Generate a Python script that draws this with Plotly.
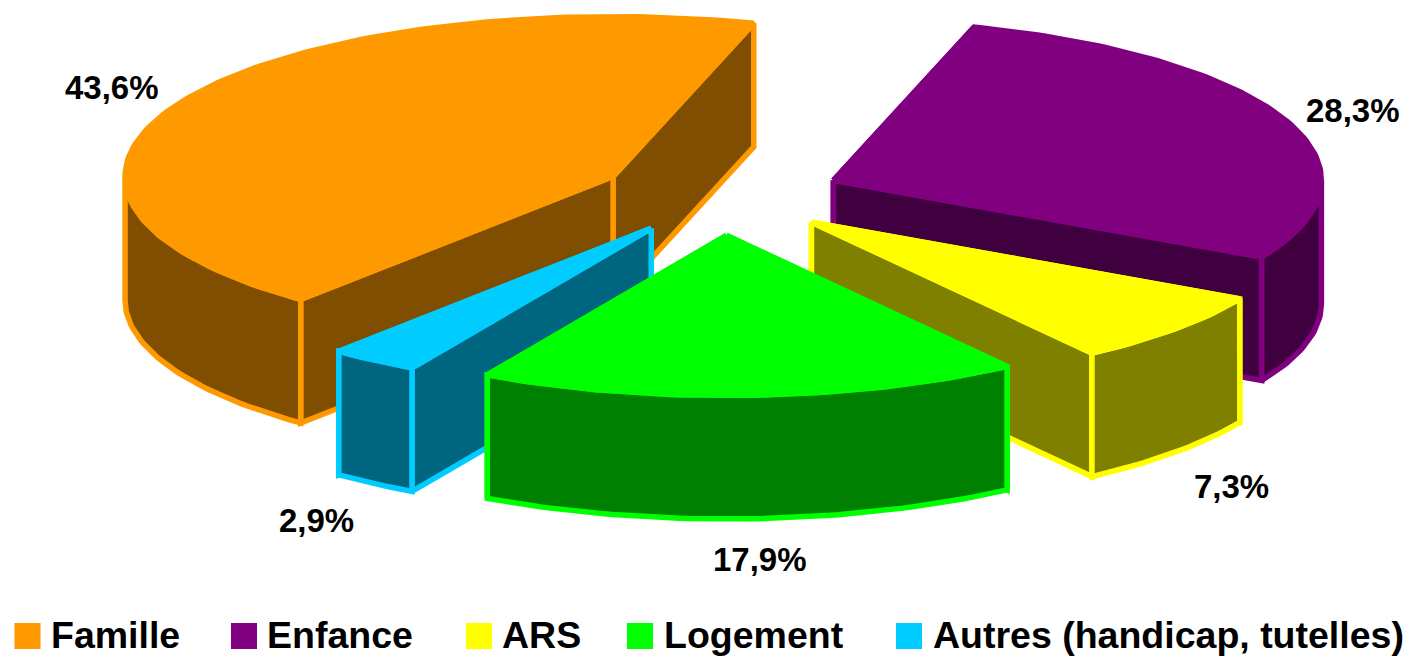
import math
import plotly.graph_objects as go

categories = ["Famille", "Enfance", "ARS", "Logement", "Autres (handicap, tutelles)"]
values = [43.6, 28.3, 7.3, 17.9, 2.9]
value_labels = ["43,6%", "28,3%", "7,3%", "17,9%", "2,9%"]
top_colors = ["#FF9900", "#800080", "#FFFF00", "#00FF00", "#00CCFF"]
wall_colors = ["#804E00", "#400040", "#808000", "#008000", "#006680"]
draw_order = [0, 1, 2, 4, 3]

# pie projection (pixel scale of the hidden axes)
WIDTH, HEIGHT = 1419, 657
CX, CY = 720.5, 195.5
RX, RY = 488, 160
DEPTH = 123.5
EXPLODE = 0.25
START_DEG = 219.8

# label and legend placement
label_xy = [(112, 87), (1353, 110), (1231, 486), (760, 559), (316, 520)]
legend_swatch_x = [27.5, 244, 479, 640, 909]
legend_text_x = [51, 267, 502, 664, 933]
LEGEND_Y = 636
LEGEND_TEXT_Y = 634.5


def pt(deg, r=1.0, ox=0.0, oy=0.0):
    a = math.radians(deg)
    return ox + r * RX * math.sin(a), oy - r * RY * math.cos(a)


def arc(a0, a1, ox, oy):
    n = max(2, int(abs(a1 - a0)) + 1)
    return [pt(a0 + (a1 - a0) * i / n, 1.0, ox, oy) for i in range(n + 1)]


def face(points, fill, line, name):
    xs = [p[0] for p in points] + [points[0][0]]
    ys = [p[1] for p in points] + [points[0][1]]
    return go.Scatter(x=xs, y=ys, mode="lines", fill="toself", fillcolor=fill,
                      line=dict(color=line, width=5.5), name=name,
                      hoverinfo="name", showlegend=False)


fig = go.Figure()
total = sum(values)
spans = []
angle = START_DEG
for v in values:
    sweep = v / total * 360
    spans.append((angle, angle + sweep))
    angle += sweep

for i in draw_order:
    a0, a1 = spans[i]
    mid = (a0 + a1) / 2
    ox, oy = pt(mid, EXPLODE, CX, CY)
    bright, dark, name = top_colors[i], wall_colors[i], categories[i]

    def down(p):
        return p[0], p[1] + DEPTH

    apex = (ox, oy)
    cuts = [pt(a0, 1.0, ox, oy), pt(a1, 1.0, ox, oy)]
    cuts.sort(key=lambda p: p[1])
    for rim in cuts:
        fig.add_trace(face([apex, rim, down(rim), down(apex)], dark, bright, name))

    # front part of the outer wall: directions between 90 and 270 degrees (mod 360)
    for k in (0, 1):
        lo = max(a0, 90 + 360 * k)
        hi = min(a1, 270 + 360 * k)
        if hi > lo:
            rim = arc(lo, hi, ox, oy)
            fig.add_trace(face(rim + [down(p) for p in reversed(rim)], dark, bright, name))

    fig.add_trace(face([apex] + arc(a0, a1, ox, oy), bright, bright, name))

fig.add_trace(go.Scatter(
    x=legend_swatch_x, y=[LEGEND_Y] * len(categories), mode="markers",
    marker=dict(symbol="square", size=24, color=top_colors,
                line=dict(width=2, color=top_colors)),
    hoverinfo="skip", showlegend=False))

FONT = "Liberation Sans, Arial, sans-serif"
for (x, y), t in zip(label_xy, value_labels):
    fig.add_annotation(x=x, y=y, text=f"<b>{t}</b>", showarrow=False,
                       font=dict(family=FONT, size=33, color="black"),
                       xanchor="center", yanchor="middle")
for x, t in zip(legend_text_x, categories):
    fig.add_annotation(x=x, y=LEGEND_TEXT_Y, text=f"<b>{t}</b>", showarrow=False,
                       font=dict(family=FONT, size=37.5, color="black"),
                       xanchor="left", yanchor="middle", xshift=-2)

fig.update_layout(
    width=WIDTH, height=HEIGHT, margin=dict(l=0, r=0, t=0, b=0),
    paper_bgcolor="white", plot_bgcolor="white", showlegend=False,
    xaxis=dict(range=[0, WIDTH], visible=False, fixedrange=True),
    yaxis=dict(range=[HEIGHT, 0], visible=False, fixedrange=True),
)
fig.write_html("out.html", config={"displayModeBar": False},
               post_script="document.body.style.margin='0';document.body.style.overflow='hidden';")
